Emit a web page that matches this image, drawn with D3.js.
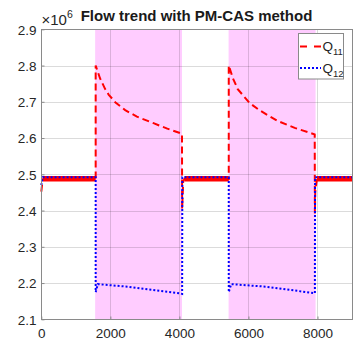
<!DOCTYPE html>
<html><head><meta charset="utf-8">
<script src="https://cdn.jsdelivr.net/npm/d3@7"></script>
<style>body{margin:0;background:#fff}svg{display:block}text{font-family:"Liberation Sans",Arial,sans-serif}</style>
</head><body>
<svg id="c" width="354" height="343"></svg>
<script>
// ---- data ----
const title = "Flow trend with PM-CAS method";
const xTicks = [0, 2000, 4000, 6000, 8000];
const yTicks = [2.1, 2.2, 2.3, 2.4, 2.5, 2.6, 2.7, 2.8, 2.9];
const shaded = [[1560, 4075], [5425, 7945]];
// Q11 (x1e6)
const q11T = [0, 40, 1575, 1575, 1700, 1850, 1950, 2150, 2430, 2770, 3250, 3650, 4075, 4080, 4110, 4150,
              5430, 5430, 5550, 5690, 6030, 6300, 6560, 6850, 7340, 7920, 7925, 7935, 7985, 9000];
const q11V = [2.452, 2.486, 2.487, 2.80, 2.765, 2.735, 2.72, 2.698, 2.677, 2.659, 2.641, 2.626, 2.612, 2.405, 2.48, 2.488,
              2.487, 2.80, 2.765, 2.735, 2.697, 2.678, 2.663, 2.647, 2.628, 2.61, 2.392, 2.45, 2.488, 2.488];
// Q12 (x1e6)
const q12T = [0, 40, 1575, 1575, 1640, 2500, 3300, 4000, 4080, 4085, 5430, 5430, 5500, 6500, 7300, 7900, 7925, 7930, 9000];
const q12V = [2.47, 2.492, 2.492, 2.175, 2.197, 2.19, 2.18, 2.172, 2.17, 2.492, 2.492, 2.175, 2.197, 2.19, 2.18, 2.172, 2.172, 2.492, 2.492];
// noisy plateau bands of Q11 (start, end, level)
const plateauStart = [40, 4150, 7985];
const plateauEnd = [1575, 5430, 9000];
const plateauLevel = [2.488, 2.488, 2.488];

// ---- layout ----
const svg = d3.select("#c");
const L = 41.3, R = 352, T = 29.3, B = 319.3;
const x = d3.scaleLinear().domain([0, 9000]).range([L, R]);
const y = d3.scaleLinear().domain([2.1, 2.9]).range([B, T]);

// shaded patches
svg.selectAll("rect.sh").data(shaded).enter().append("rect")
  .attr("x", d => x(d[0])).attr("width", d => x(d[1]) - x(d[0]))
  .attr("y", T).attr("height", B - T).attr("fill", "#ffccff");

// grid
const grid = svg.append("g").attr("stroke", "#000").attr("stroke-opacity", 0.14).attr("stroke-width", 1);
xTicks.concat([9000]).slice(1).forEach(t => grid.append("line")
  .attr("x1", Math.round(x(t)) + 0.5).attr("x2", Math.round(x(t)) + 0.5).attr("y1", T).attr("y2", B));
yTicks.forEach(t => grid.append("line")
  .attr("y1", Math.round(y(t)) + 0.5).attr("y2", Math.round(y(t)) + 0.5).attr("x1", L).attr("x2", R));

// lines
const line = d3.line().x(d => x(d[0])).y(d => y(d[1]));
const q11 = q11T.map((t, i) => [t, q11V[i]]);
const q12 = q12T.map((t, i) => [t, q12V[i]]);

// plateau bands (noisy region)
plateauStart.forEach((s, i) => {
  svg.append("path").attr("d", line([[s, plateauLevel[i]], [plateauEnd[i], plateauLevel[i]]]))
    .attr("stroke", "#ff0000").attr("stroke-width", 5.5).attr("fill", "none");
});
svg.append("path").attr("d", line(q11)).attr("fill", "none")
  .attr("stroke", "#ff0000").attr("stroke-width", 2).attr("stroke-dasharray", "7,4");
svg.append("path").attr("d", line(q12)).attr("fill", "none")
  .attr("stroke", "#0000ff").attr("stroke-width", 2).attr("stroke-dasharray", "2,2");

// axes box
const ax = svg.append("g");
ax.append("rect").attr("x", Math.round(L) + 0.5).attr("y", Math.round(T) + 0.5)
  .attr("width", Math.round(R) - Math.round(L)).attr("height", Math.round(B) - Math.round(T))
  .attr("fill", "none").attr("stroke", "#8a8a8a").attr("stroke-width", 1);
// x axis ticks
const xa = d3.axisBottom(x).tickValues(xTicks).tickSize(-3).tickPadding(8).tickFormat(d3.format("d"));
const gx = svg.append("g").attr("transform", `translate(0,${Math.round(B) + 0.5})`).call(xa);
gx.select(".domain").remove();
gx.selectAll("line").attr("stroke", "#8a8a8a");
gx.selectAll("text").attr("fill", "#262626").attr("font-size", 13.5).attr("y", 9).attr("dy", "0.71em");
const ya = d3.axisLeft(y).tickValues(yTicks).tickSize(-3).tickPadding(6).tickFormat(d3.format(".1f"));
const gy = svg.append("g").attr("transform", `translate(${Math.round(L) + 0.5},0)`).call(ya);
gy.select(".domain").remove();
gy.selectAll("line").attr("stroke", "#8a8a8a");
gy.selectAll("text").attr("fill", "#262626").attr("font-size", 13.5).attr("x", -5).attr("dy", "0.36em");

// exponent
const ex = svg.append("text").attr("x", 41.5).attr("y", 25).attr("fill", "#262626").attr("font-size", 15);
ex.append("tspan").text("\u00d710");
ex.append("tspan").attr("font-size", 10.5).attr("dy", -7).text("6");

// title
svg.append("text").attr("x", 196.5).attr("y", 21).attr("text-anchor", "middle")
  .attr("font-weight", "bold").attr("font-size", 15).attr("fill", "#1a1a1a").text(title);

// legend
const lg = svg.append("g");
lg.append("rect").attr("x", 298.5).attr("y", 33.5).attr("width", 45).attr("height", 45.5)
  .attr("fill", "#fff").attr("stroke", "#8a8a8a").attr("stroke-width", 1);
const entries = [{c: "#ff0000", dash: "7,7", sub: "11", yy: 46.5}, {c: "#0000ff", dash: "2,2", sub: "12", yy: 68}];
entries.forEach(e => {
  lg.append("line").attr("x1", 300).attr("x2", 321).attr("y1", e.yy).attr("y2", e.yy)
    .attr("stroke", e.c).attr("stroke-width", 2).attr("stroke-dasharray", e.dash);
  const t = lg.append("text").attr("x", 322.5).attr("y", e.yy + 4.5).attr("fill", "#262626").attr("font-size", 13.5);
  t.append("tspan").text("Q");
  t.append("tspan").attr("font-size", 9.5).attr("dy", 4).text(e.sub);
});
</script>
</body></html>
